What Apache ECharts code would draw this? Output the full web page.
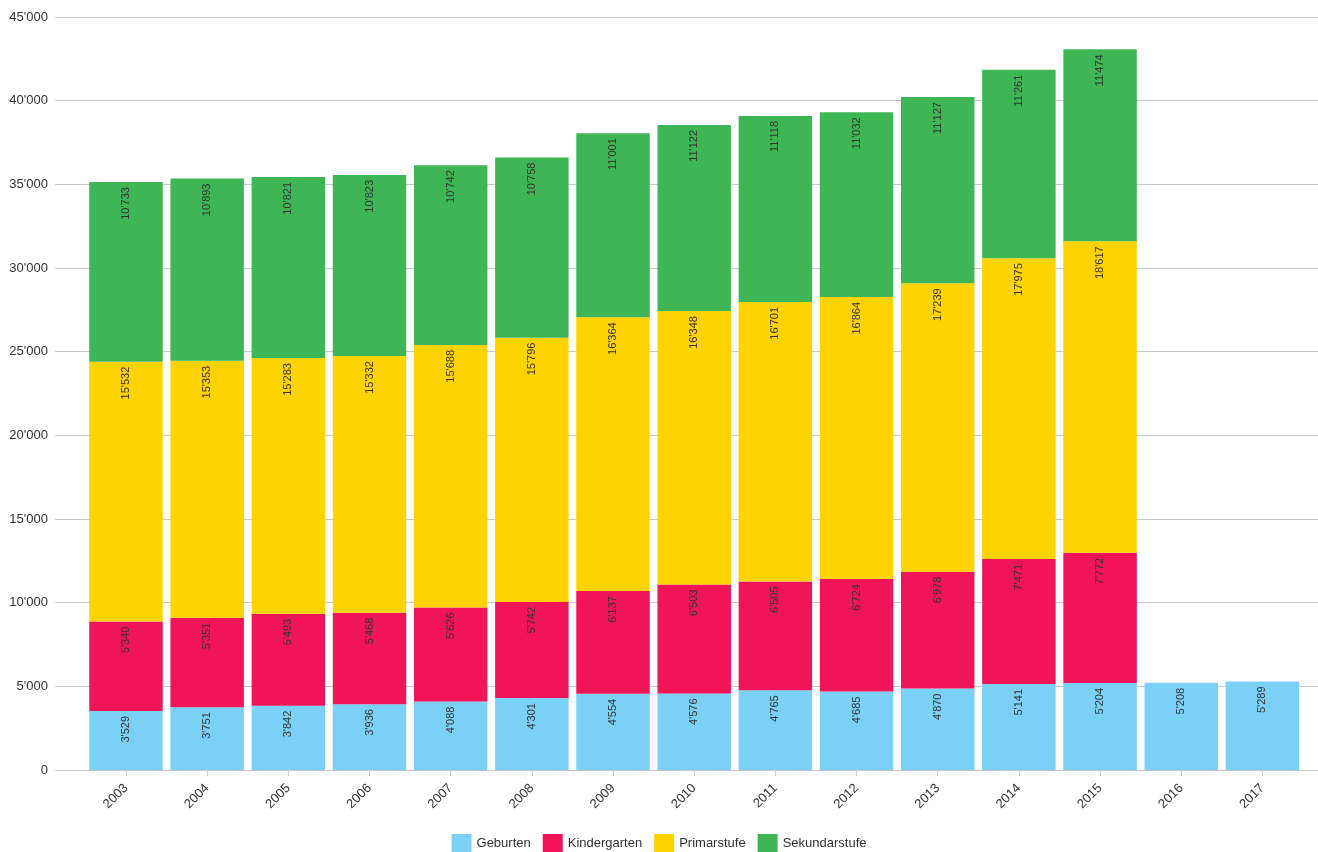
<!DOCTYPE html>
<html>
<head>
<meta charset="utf-8">
<title>Geburten und Schülerzahlen</title>
<script src="https://cdn.jsdelivr.net/npm/echarts@6/dist/echarts.min.js"></script>
<style>
  html, body { margin: 0; padding: 0; background: #fff; }
  #chart { width: 1318px; height: 852px; }
</style>
</head>
<body>
<div id="chart"></div>
<script>
// Years shown on the category axis
const years = ['2003','2004','2005','2006','2007','2008','2009','2010','2011','2012','2013','2014','2015','2016','2017'];

// Stacked series values per year
const geburten      = [3529, 3751, 3842, 3936, 4088, 4301, 4554, 4576, 4765, 4685, 4870, 5141, 5204, 5208, 5289];
const kindergarten  = [5340, 5351, 5493, 5468, 5626, 5742, 6137, 6503, 6505, 6724, 6978, 7471, 7772, null, null];
const primarstufe   = [15532, 15353, 15283, 15332, 15688, 15796, 16364, 16348, 16701, 16864, 17239, 17975, 18617, null, null];
const sekundarstufe = [10733, 10893, 10821, 10823, 10742, 10758, 11001, 11122, 11118, 11032, 11127, 11261, 11474, null, null];

// Value axis range
const yMin = 0, yMax = 45000, yStep = 5000;

const FONT = '"Liberation Sans", Arial, sans-serif';

// Swiss-style thousands separator: 10'733
function fmt(v) {
  return String(Math.round(v)).replace(/\B(?=(\d{3})+(?!\d))/g, "'");
}

function barSeries(name, data, color) {
  return {
    name: name,
    type: 'bar',
    stack: 'total',
    xAxisIndex: 1,
    yAxisIndex: 1,
    data: data,
    barCategoryGap: '9.5%',
    itemStyle: { color: color },
    label: {
      show: true,
      position: 'insideTop',
      distance: 5,
      rotate: 90,
      align: 'right',
      verticalAlign: 'middle',
      fontFamily: FONT,
      fontSize: 11,
      color: '#333',
      formatter: p => (p.value == null ? '' : fmt(p.value))
    }
  };
}

const chart = echarts.init(document.getElementById('chart'), null, { renderer: 'canvas' });

chart.setOption({
  animation: false,
  backgroundColor: '#fff',
  grid: [
    // full-width grid carrying the value axis and its grid lines
    { left: 55, right: 0, top: 17, bottom: 82, containLabel: false },
    // inner grid holding the bars
    { left: 85.4, right: 15, top: 17, bottom: 82, containLabel: false }
  ],
  xAxis: [
    { type: 'value', gridIndex: 0, min: 0, max: 1, show: false },
    {
      type: 'category',
      gridIndex: 1,
      data: years,
      axisLine: { show: false },
      axisTick: { show: true, alignWithLabel: true, length: 6, lineStyle: { color: '#ccc' } },
      axisLabel: {
        rotate: 45,
        margin: 16,
        fontFamily: FONT,
        fontSize: 13,
        color: '#333'
      }
    }
  ],
  yAxis: [
    {
      type: 'value',
      gridIndex: 0,
      min: yMin,
      max: yMax,
      interval: yStep,
      axisLine: { show: false },
      axisTick: { show: false },
      axisLabel: {
        margin: 7,
        fontFamily: FONT,
        fontSize: 13,
        color: '#333',
        formatter: v => fmt(v)
      },
      splitLine: { show: true, lineStyle: { color: '#c8c8c8', width: 1 } }
    },
    {
      type: 'value',
      gridIndex: 1,
      min: yMin,
      max: yMax,
      interval: yStep,
      show: false,
      splitLine: { show: false }
    }
  ],
  legend: {
    top: 829,
    left: 'center',
    icon: 'rect',
    itemWidth: 20,
    itemHeight: 18,
    itemGap: 12,
    textStyle: { fontFamily: FONT, fontSize: 13, color: '#333' },
    data: ['Geburten', 'Kindergarten', 'Primarstufe', 'Sekundarstufe']
  },
  series: [
    barSeries('Geburten', geburten, '#7bd0f6'),
    barSeries('Kindergarten', kindergarten, '#ef1557'),
    barSeries('Primarstufe', primarstufe, '#fed300'),
    barSeries('Sekundarstufe', sekundarstufe, '#3eb655')
  ]
});
</script>
</body>
</html>
